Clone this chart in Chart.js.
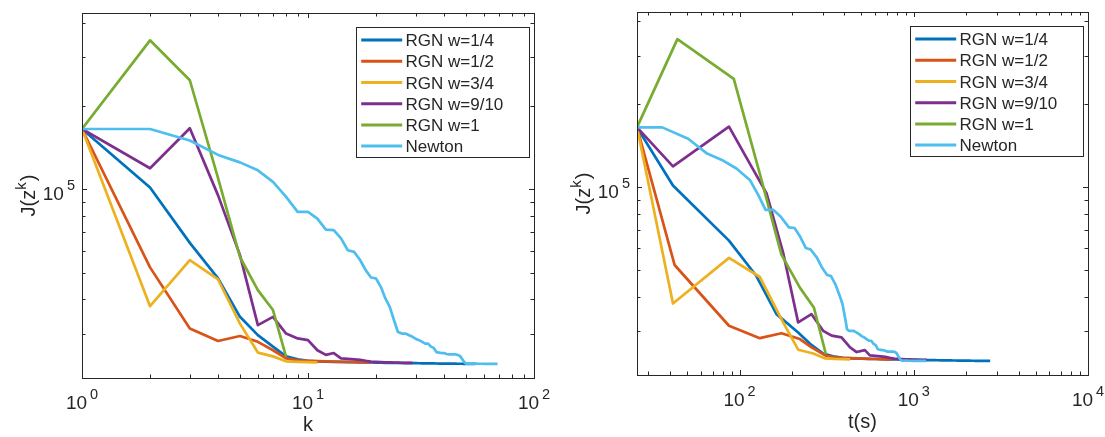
<!DOCTYPE html>
<html>
<head>
<meta charset="utf-8">
<script src="https://cdn.jsdelivr.net/npm/chart.js@4.4.1/dist/chart.umd.min.js"></script>
<style>
  html, body { margin: 0; padding: 0; background: #fff; }
  #wrap { position: relative; width: 1105px; height: 437px; }
  canvas { position: absolute; top: 0; }
</style>
</head>
<body>
<div id="wrap">
  <canvas id="leftChart" width="552" height="437" style="left:0"></canvas>
  <canvas id="rightChart" width="553" height="437" style="left:552px"></canvas>
</div>
<script>
// legend labels and colours (matlab default order)
var labels = ['RGN w=1/4', 'RGN w=1/2', 'RGN w=3/4', 'RGN w=9/10', 'RGN w=1', 'Newton'];
var colors = ['#0072BD', '#D95319', '#EDB120', '#7E2F8E', '#77AC30', '#4DBEEE'];

// J(z^k) per iteration
var jBlue = [165000, 101500, 64000, 47600, 34600, 29700, 27000, 24900, 24300, 24000,
  23900, 23850, 23800, 23780, 23750, 23720, 23700, 23680, 23660, 23640,
  23620, 23600, 23590, 23580, 23570, 23560, 23550, 23540, 23530, 23520,
  23510, 23500, 23500, 23490, 23480, 23480, 23470, 23460, 23460, 23450,
  23450, 23440, 23440, 23430, 23430, 23420, 23420, 23420, 23410, 23410,
  23410, 23400, 23400, 23400, 23400];
var jOrange = [165000, 52200, 31400, 28300, 29500, 28100, 26200, 24500, 24100, 24000,
  23950, 23900, 23850, 23800, 23780, 23750, 23720, 23700, 23680];
var jYellow = [165000, 37800, 55400, 47200, 32700, 25700, 24900, 23900, 23800, 23750, 23700];
var jPurple = [165000, 119000, 166000, 95000, 57800, 32300, 34600, 30100, 28900, 28500,
  26200, 25200, 25600, 24500, 24400, 24300, 24200, 24000, 23850, 23800,
  23750, 23700, 23700, 23650, 23650, 23600, 23600, 23600, 23600];
var jGreen = [165000, 345000, 247500, 109600, 56900, 43200, 36600, 24800];
var jNewton = [165000, 165000, 150000, 133000, 125000, 117000, 106300, 93800, 82800, 82800,
  78300, 71500, 71100, 66400, 60200, 59400, 55500, 51000, 48000, 47600,
  44400, 40300, 37600, 33700, 30500, 30100, 30100, 29700, 29300, 28800,
  28500, 28100, 27700, 27700, 27000, 26700, 25800, 25700, 25600, 25600,
  25400, 25300, 25300, 25300, 25300, 25200, 25000, 24400, 23800, 23450,
  23450, 23450, 23440, 23440, 23430, 23430, 23420, 23420, 23420, 23410,
  23410, 23410, 23400, 23400, 23400, 23400, 23400, 23400, 23400];

// elapsed time t(s) at each iteration
var tBlue = [25.8, 41.5, 87, 125, 163, 217, 254, 302, 345, 393,
  445, 497, 548, 601, 652, 703, 756, 806, 858, 911,
  962, 1013, 1066, 1117, 1168, 1221, 1272, 1323, 1376, 1427,
  1478, 1531, 1582, 1633, 1686, 1737, 1788, 1841, 1892, 1943,
  1996, 2047, 2098, 2151, 2202, 2253, 2306, 2357, 2408, 2461,
  2512, 2563, 2616, 2680, 2745];
var tOrange = [25.8, 42.4, 87, 130.8, 174, 222, 259, 310, 352, 393,
  434, 476, 517, 558, 600, 641, 682, 723, 764];
var tYellow = [25.8, 41.5, 87, 131, 176, 217, 265, 310, 350, 390, 431];
var tPurple = [25.8, 41.5, 87, 143, 178, 217, 259, 302, 338, 385,
  431, 470, 524, 560, 602, 644, 686, 728, 770, 812,
  853, 895, 937, 979, 1021, 1063, 1105, 1146, 1188];
var tGreen = [25.8, 44, 92.7, 132, 174, 222, 267, 313];
var tNewton = [25.8, 36, 50.7, 64.6, 80.5, 96, 114.6, 128, 141, 156,
  172, 192, 207, 222, 240, 256, 278, 298, 318, 335,
  355, 376, 390, 403, 414, 424, 450, 468, 485, 502,
  519, 536, 553, 570, 588, 605, 622, 640, 657, 674,
  692, 709, 726, 743, 761, 778, 796, 813, 832, 852,
  869, 887, 904, 921, 938, 956, 973, 990, 1008, 1025,
  1042, 1059, 1077, 1094, 1111, 1128, 1146, 1162, 1178];

var jAll = [jBlue, jOrange, jYellow, jPurple, jGreen, jNewton];
var tAll = [tBlue, tOrange, tYellow, tPurple, tGreen, tNewton];

// decade labels on the axes
var kDecades = [0, 1, 2];
var tDecades = [2, 3, 4];
var yDecades = [5];

var FONT = '"Liberation Sans", Arial, Helvetica, sans-serif';
var INK = '#262626';

function logTicks(min, max) {
  var out = [];
  for (var d = Math.floor(Math.log10(min)); d <= Math.ceil(Math.log10(max)); d++) {
    for (var m = 1; m <= 9; m++) {
      var v = m * Math.pow(10, d);
      if (v >= min * 0.999 && v <= max * 1.001) out.push({ v: v, major: m === 1 });
    }
  }
  return out;
}

function drawPower(ctx, x, y, exp, align) {
  ctx.font = '19px ' + FONT;
  var wBase = ctx.measureText('10').width;
  ctx.font = '14.5px ' + FONT;
  var wExp = ctx.measureText(exp).width;
  var total = wBase + 3 + wExp;
  var x0 = align === 'center' ? x - total / 2 : x - total;
  ctx.font = '19px ' + FONT;
  ctx.fillText('10', x0, y);
  ctx.font = '14.5px ' + FONT;
  ctx.fillText(exp, x0 + wBase + 3, y - 10);
}

// matlab style box, inward ticks, labels and legend
var matlabAxes = {
  id: 'matlabAxes',
  afterDraw: function (chart, args, o) {
    var ctx = chart.ctx, a = chart.chartArea;
    var x = chart.scales.x, y = chart.scales.y;
    ctx.save();
    ctx.strokeStyle = INK;
    ctx.fillStyle = INK;
    ctx.lineWidth = 1;

    // legend
    var bw = 173, bh = 130;
    var bx = Math.round(a.right - 4.7 - bw) + 0.5, by = Math.round(a.top + 13.7) + 0.5;
    ctx.fillStyle = '#fff';
    ctx.fillRect(bx, by, bw, bh);
    ctx.strokeRect(bx, by, bw, bh);
    ctx.font = '17px ' + FONT;
    ctx.textAlign = 'left';
    ctx.textBaseline = 'alphabetic';
    chart.data.datasets.forEach(function (ds, i) {
      var cy = by + 12.6 + i * 21.2;
      ctx.strokeStyle = ds.borderColor;
      ctx.lineWidth = 3;
      ctx.beginPath();
      ctx.moveTo(bx + 4.7, cy);
      ctx.lineTo(bx + 45.7, cy);
      ctx.stroke();
      ctx.fillStyle = INK;
      ctx.fillText(ds.label, bx + 49, cy + 6);
    });

    // box
    ctx.strokeStyle = INK;
    ctx.lineWidth = 1;
    ctx.strokeRect(a.left + 0.5, a.top + 0.5, a.right - a.left, a.bottom - a.top);

    // ticks
    ctx.beginPath();
    logTicks(x.min, x.max).forEach(function (t) {
      var px = Math.round(x.getPixelForValue(t.v)) + 0.5;
      var len = t.major ? 5 : 3.5;
      ctx.moveTo(px, a.bottom); ctx.lineTo(px, a.bottom - len);
      ctx.moveTo(px, a.top); ctx.lineTo(px, a.top + len);
    });
    logTicks(y.min, y.max).forEach(function (t) {
      var py = Math.round(y.getPixelForValue(t.v)) + 0.5;
      var len = t.major ? 5 : 3.5;
      ctx.moveTo(a.left, py); ctx.lineTo(a.left + len, py);
      ctx.moveTo(a.right, py); ctx.lineTo(a.right - len, py);
    });
    ctx.stroke();

    // tick labels
    ctx.fillStyle = INK;
    ctx.textAlign = 'left';
    o.xDecades.forEach(function (d) {
      drawPower(ctx, x.getPixelForValue(Math.pow(10, d)), a.bottom + 30.5, String(d), 'center');
    });
    o.yDecades.forEach(function (d) {
      drawPower(ctx, a.left - 7, y.getPixelForValue(Math.pow(10, d)) + 11, String(d), 'right');
    });

    // x title
    ctx.font = '20px ' + FONT;
    ctx.textAlign = 'center';
    ctx.fillText(o.xTitle, (a.left + a.right) / 2, a.bottom + 53);

    // y title J(z^k)
    ctx.translate(a.left - 47, (a.top + a.bottom) / 2);
    ctx.rotate(-Math.PI / 2);
    ctx.textAlign = 'left';
    ctx.font = '20px ' + FONT;
    var w1 = ctx.measureText('J(z').width, w3 = ctx.measureText(')').width;
    ctx.font = '15px ' + FONT;
    var w2 = ctx.measureText('k').width;
    var xx = -(w1 + w2 + w3 + 1) / 2;
    ctx.font = '20px ' + FONT;
    ctx.fillText('J(z', xx, 0);
    ctx.font = '15px ' + FONT;
    ctx.fillText('k', xx + w1, -9);
    ctx.font = '20px ' + FONT;
    ctx.fillText(')', xx + w1 + w2 + 1, 0);
    ctx.restore();
  }
};

function makeChart(id, xs, xMin, xMax, pad, xTitle, xDecades) {
  var datasets = labels.map(function (lab, i) {
    return {
      label: lab,
      data: jAll[i].map(function (v, n) { return { x: xs[i][n], y: v }; }),
      borderColor: colors[i],
      borderWidth: 2.7,
      borderJoinStyle: 'round',
      pointRadius: 0,
      fill: false,
      tension: 0,
      order: labels.length - i
    };
  });
  return new Chart(document.getElementById(id).getContext('2d'), {
    type: 'line',
    data: { datasets: datasets },
    options: {
      responsive: false,
      animation: false,
      layout: { padding: pad },
      plugins: {
        legend: { display: false },
        tooltip: { enabled: false },
        matlabAxes: { xTitle: xTitle, xDecades: xDecades, yDecades: yDecades }
      },
      scales: {
        x: { type: 'logarithmic', min: xMin, max: xMax, display: false },
        y: { type: 'logarithmic', min: 20800, max: 433000, display: false }
      }
    },
    plugins: [matlabAxes]
  });
}

// iteration numbers 1..n for the left plot
var kAll = jAll.map(function (s) { return s.map(function (v, n) { return n + 1; }); });

makeChart('leftChart', kAll, 1, 100, { left: 82, right: 18, top: 13, bottom: 59 }, 'k', kDecades);
makeChart('rightChart', tAll, 25.8, 10000, { left: 85, right: 17, top: 12, bottom: 62 }, 't(s)', tDecades);
</script>
</body>
</html>
